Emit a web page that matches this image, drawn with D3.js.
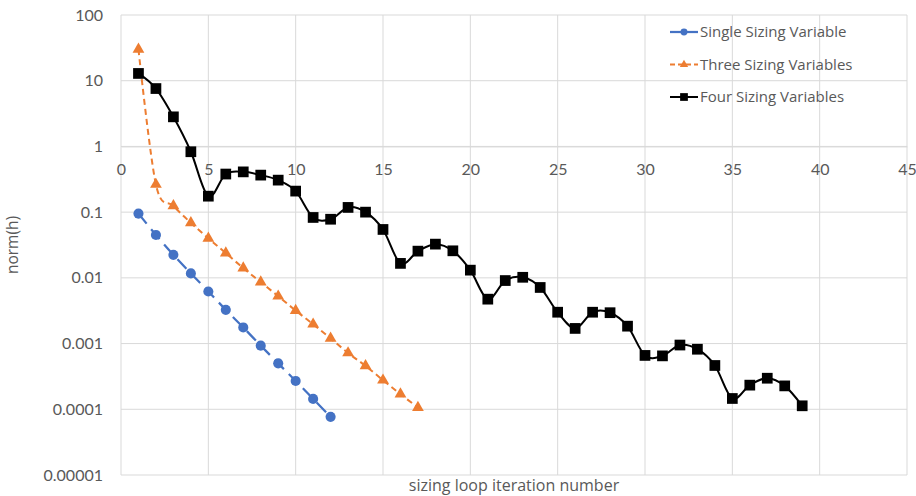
<!DOCTYPE html>
<html>
<head>
<meta charset="utf-8">
<script src="https://cdn.jsdelivr.net/npm/d3@7"></script>
<style>
  html, body { margin: 0; padding: 0; background: #fff; }
  svg { display: block; }
  text { font-family: "Open Sans", Lato, sans-serif; fill: #595959; }
</style>
</head>
<body>
<svg id="chart" width="916" height="496"></svg>
<script>
// Iteration numbers and the norm(h) reached at each one
const iterSingle = [1, 2, 3, 4, 5, 6, 7, 8, 9, 10, 11, 12];
const normSingle = [0.095, 0.045, 0.0224, 0.0117, 0.0062, 0.00326, 0.00176, 0.00093, 0.0005, 0.00027, 0.000144, 0.0000767];

const iterThree = [1, 2, 3, 4, 5, 6, 7, 8, 9, 10, 11, 12, 13, 14, 15, 16, 17];
const normThree = [30, 0.264, 0.125, 0.0687, 0.040, 0.0238, 0.0141, 0.0086, 0.00526, 0.00318, 0.00197, 0.0012, 0.00072, 0.000458, 0.000277, 0.00017, 0.000106];

const iterFour = [1, 2, 3, 4, 5, 6, 7, 8, 9, 10, 11, 12, 13, 14, 15, 16, 17, 18, 19, 20,
                  21, 22, 23, 24, 25, 26, 27, 28, 29, 30, 31, 32, 33, 34, 35, 36, 37, 38, 39];
const normFour = [12.9, 7.6, 2.82, 0.83, 0.175, 0.38, 0.41, 0.366, 0.307, 0.209,
                  0.083, 0.078, 0.118, 0.1, 0.0545, 0.0166, 0.0255, 0.0326, 0.0258, 0.0131,
                  0.00474, 0.0091, 0.0102, 0.00714, 0.003, 0.0017, 0.003, 0.00295, 0.00184, 0.00066,
                  0.00065, 0.00095, 0.00082, 0.000464, 0.000146, 0.000233, 0.000297, 0.000227, 0.000113];

const seriesNames = ["Single Sizing Variable", "Three Sizing Variables", "Four Sizing Variables"];

const xTicks = [0, 5, 10, 15, 20, 25, 30, 35, 40, 45];
const yTicks = [100, 10, 1, 0.1, 0.01, 0.001, 0.0001, 0.00001];
const yTickLabels = ["100", "10", "1", "0.1", "0.01", "0.001", "0.0001", "0.00001"];

const svg = d3.select("#chart");
const plot = { left: 121, right: 907, top: 15, bottom: 475 };

const x = d3.scaleLinear().domain([0, 45]).range([plot.left, plot.right]);
const y = d3.scaleLog().domain([0.00001, 100]).range([plot.bottom, plot.top]);

const gridColor = "#d9d9d9";

// Gridlines
const grid = svg.append("g");
grid.selectAll("line.h").data(yTicks).join("line")
  .attr("x1", plot.left).attr("x2", plot.right)
  .attr("y1", d => y(d)).attr("y2", d => y(d))
  .attr("stroke", gridColor).attr("stroke-width", 1);
grid.selectAll("line.v").data(xTicks).join("line")
  .attr("x1", d => x(d)).attr("x2", d => x(d))
  .attr("y1", plot.top).attr("y2", plot.bottom)
  .attr("stroke", gridColor).attr("stroke-width", 1);

// Y axis labels
const yAxis = d3.axisLeft(y).tickValues(yTicks)
  .tickFormat((d, i) => yTickLabels[i]).tickSize(0).tickPadding(18);
const gy = svg.append("g").attr("transform", `translate(${plot.left},0)`).call(yAxis);
gy.select(".domain").remove();
gy.selectAll("text").style("font-family", "Lato, sans-serif").style("font-size", "16px").attr("fill", "#595959");

// X axis crosses at norm(h) = 1
const xAxis = d3.axisBottom(x).tickValues(xTicks).tickSize(0).tickPadding(17);
const gx = svg.append("g").attr("transform", `translate(0,${y(1)})`).call(xAxis);
gx.select(".domain").attr("stroke", gridColor);
gx.selectAll("text").style("font-family", "Lato, sans-serif").style("font-size", "16px").attr("fill", "#595959");

// Axis titles
svg.append("text")
  .attr("transform", `translate(18,${(plot.top + plot.bottom) / 2}) rotate(-90)`)
  .attr("text-anchor", "middle").style("font-size", "15.5px")
  .text("norm(h)");
svg.append("text")
  .attr("x", (plot.left + plot.right) / 2).attr("y", 491)
  .attr("text-anchor", "middle").style("font-size", "16px")
  .text("sizing loop iteration number");

const curve = d3.curveCardinal.tension(0);
const line = d3.line().x(d => x(d[0])).y(d => y(d[1])).curve(curve);

const series = [
  { iters: iterSingle, vals: normSingle, color: "#4472C4", dash: "13,7", width: 2.25, symbol: d3.symbolCircle, size: 80, legendSize: 38 },
  { iters: iterThree, vals: normThree, color: "#ED7D31", dash: "6,4", width: 2, symbol: d3.symbolTriangle, size: 60, legendSize: 30 },
  { iters: iterFour, vals: normFour, color: "#000000", dash: null, width: 2, symbol: d3.symbolSquare, size: 115, legendSize: 60 }
];

series.forEach(s => {
  const pts = s.iters.map((it, i) => [it, s.vals[i]]);
  const g = svg.append("g");
  g.append("path").datum(pts)
    .attr("d", line).attr("fill", "none")
    .attr("stroke", s.color).attr("stroke-width", s.width)
    .attr("stroke-dasharray", s.dash);
  g.selectAll("path.m").data(pts).join("path")
    .attr("class", "m")
    .attr("transform", d => `translate(${x(d[0])},${y(d[1])})`)
    .attr("d", d3.symbol().type(s.symbol).size(s.size))
    .attr("fill", s.color);
});

// Legend
const legend = svg.append("g");
series.forEach((s, i) => {
  const ly = 32 + i * 32.5;
  legend.append("line")
    .attr("x1", 670).attr("x2", 698).attr("y1", ly).attr("y2", ly)
    .attr("stroke", s.color).attr("stroke-width", s.width)
    .attr("stroke-dasharray", s.dash ? (i === 1 ? "5,3" : null) : null);
  legend.append("path")
    .attr("transform", `translate(684,${ly})`)
    .attr("d", d3.symbol().type(s.symbol).size(s.legendSize))
    .attr("fill", s.color);
  legend.append("text")
    .attr("x", 700).attr("y", ly).attr("dy", "0.35em")
    .style("font-size", "15px")
    .text(seriesNames[i]);
});
</script>
</body>
</html>
